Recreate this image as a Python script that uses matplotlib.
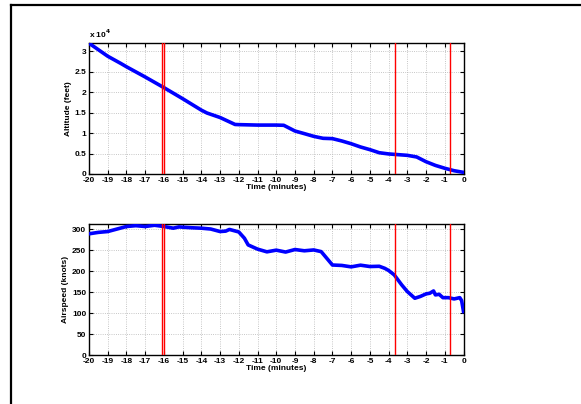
import numpy as np
import matplotlib
matplotlib.use('Agg')
import matplotlib.pyplot as plt
from matplotlib.lines import Line2D
from matplotlib.ticker import FuncFormatter

# altitude (feet) vs time (minutes)
alt_t = [-20, -19, -18.3, -18, -17, -16, -15, -14, -13.7, -13, -12.2, -12, -11, -10,
         -9.6, -9.3, -9, -8.5, -8, -7.5, -7, -6.5, -6, -5.5, -5, -4.5, -4, -3.5,
         -3, -2.5, -2, -1.5, -1, -0.5, 0]
alt_ft = [31950, 28770, 27000, 26200, 23700, 21100, 18400, 15600, 14900, 13800,
          12100, 12060, 11950, 11950, 11900, 11200, 10500, 9860, 9200, 8720, 8640,
          8070, 7400, 6600, 5950, 5200, 4900, 4730, 4560, 4160, 3000, 2100, 1400,
          800, 400]

# airspeed (knots) vs time (minutes)
spd_t = [-20, -19.5, -19, -18.5, -18, -17.5, -17, -16.5, -16, -15.5, -15.2, -14.5,
         -14, -13.5, -13, -12.7, -12.5, -12, -11.7, -11.5, -11, -10.5, -10, -9.5,
         -9, -8.5, -8, -7.6, -7.3, -7, -6.5, -6, -5.5, -5, -4.5, -4.2, -4, -3.7,
         -3.3, -3, -2.6, -2.3, -2, -1.8, -1.6, -1.5, -1.3, -1.1, -0.8, -0.5, -0.2,
         -0.1, 0]
spd_kt = [289.6, 293, 295, 301, 307, 309, 307, 310, 307, 303, 306, 304, 303, 301,
          295, 296, 300, 294, 279, 263, 253, 246.5, 250.5, 246, 252, 249, 251, 247,
          231, 215, 214, 210.6, 214.6, 211.4, 212, 207, 202, 191.5, 167.5, 151.6,
          135.6, 140, 146, 147.6, 153, 143.6, 145, 137, 137, 134, 137, 130, 104]

# event markers (minutes)
events = [-16.1, -16.02, -3.67, -0.7]

plt.rcParams['font.family'] = ['Liberation Sans', 'DejaVu Sans']
plt.rcParams['font.weight'] = 'bold'
plt.rcParams['font.size'] = 6
plt.rcParams['axes.unicode_minus'] = False

fig = plt.figure(figsize=(5.81, 4.04), dpi=100)

# page border
fig.add_artist(Line2D([11/581, 11/581], [0, 1 - 5/404], color='black', lw=1.6))
fig.add_artist(Line2D([11/581, 1], [1 - 5/404, 1 - 5/404], color='black', lw=1.6))

left, width, height = 89/581, (463.5 - 89)/581, 131/404
ax1 = fig.add_axes([left, 1 - 174/404, width, height])
ax2 = fig.add_axes([left, 1 - 355/404, width, height])

ax1.plot(alt_t, alt_ft, color='blue', lw=2.6, zorder=3)
ax2.plot(spd_t, spd_kt, color='blue', lw=2.6, zorder=3)

for ax in (ax1, ax2):
    for x in events:
        ax.axvline(x, color='red', lw=1.0, zorder=4)
    ax.set_xlim(-20, 0)
    ax.set_xticks(np.arange(-20, 1, 1))
    ax.grid(True, linestyle=':', color='#b4b4b4', lw=0.6)
    ax.tick_params(direction='in', top=True, right=True, length=3, width=0.8, pad=2,
                   labelsize=6)
    for s in ax.spines.values():
        s.set_linewidth(1.0)
    ax.set_xlabel('Time (minutes)', fontsize=6, fontweight='bold', labelpad=0)

ax1.set_ylim(0, 32000)
ax1.set_yticks(np.arange(0, 30001, 5000))
ax1.yaxis.set_major_formatter(FuncFormatter(lambda v, p: '%g' % (v / 1e4)))
ax1.set_ylabel('Altitude (feet)', fontsize=6, fontweight='bold', labelpad=2)
ax1.text(0, 1.02, r'x 10$^4$', transform=ax1.transAxes, fontsize=6,
         fontweight='bold', ha='left', va='bottom')

ax2.set_ylim(0, 313)
ax2.set_yticks(np.arange(0, 301, 50))
ax2.set_ylabel('Airspeed (knots)', fontsize=6, fontweight='bold', labelpad=2)

for ax in (ax1, ax2):
    for lab in ax.get_xticklabels() + ax.get_yticklabels():
        lab.set_fontweight('bold')

fig.savefig('out.png', dpi=100)
